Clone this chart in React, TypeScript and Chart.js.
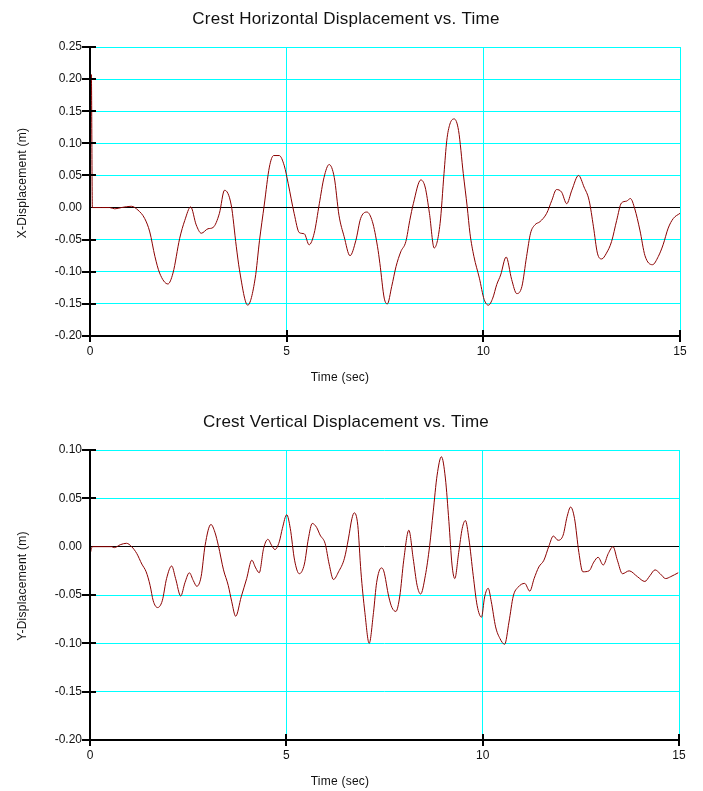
import React, { useEffect, useRef } from "react";
import { Chart, registerables } from "chart.js";

Chart.register(...registerables);

const FONT = '"Liberation Sans", Arial, Helvetica, sans-serif';
const INK = "#111111";
const GRID = "#00FFFF";
const TRACE = "#8B0000";

// Crest horizontal displacement record (sec, m)
const timeH = [
  0, 0.035, 0.06, 0.3, 0.5, 0.63, 0.8, 1.05, 1.22, 1.39, 1.52, 1.65, 1.77, 1.98,
  2.11, 2.28, 2.41, 2.56, 2.7, 2.83, 3.0, 3.13, 3.29, 3.42, 3.59, 3.72, 3.8,
  4.01, 4.2, 4.31, 4.43, 4.56, 4.67, 4.81, 4.94, 5.04, 5.19, 5.32, 5.45, 5.57,
  5.7, 5.83, 5.95, 6.08, 6.21, 6.33, 6.46, 6.61, 6.76, 6.88, 7.04, 7.18, 7.31,
  7.37, 7.48, 7.56, 7.67, 7.78, 7.9, 8.03, 8.13, 8.22, 8.41, 8.52, 8.63, 8.75,
  8.9, 9.0, 9.07, 9.15, 9.26, 9.37, 9.49, 9.59, 9.66, 9.76, 9.9, 10.02, 10.13,
  10.24, 10.34, 10.44, 10.58, 10.72, 10.85, 10.98, 11.1, 11.2, 11.31, 11.44,
  11.61, 11.74, 11.86, 11.99, 12.12, 12.25, 12.42, 12.56, 12.69, 12.8, 12.9,
  13.01, 13.13, 13.26, 13.39, 13.51, 13.64, 13.74, 13.85, 13.98, 14.11, 14.3,
  14.45, 14.57, 14.7, 14.83, 15.0,
];
const dispX = [
  0, 0.207, 0, 0, 0, -0.002, 0, 0.002, -0.004, -0.017, -0.038, -0.076, -0.102,
  -0.119, -0.102, -0.048, -0.02, 0.001, -0.027, -0.04, -0.033, -0.031, -0.009,
  0.027, 0.004, -0.061, -0.097, -0.152, -0.11, -0.051, 0.004, 0.063, 0.081,
  0.081, 0.065, 0.037, -0.009, -0.039, -0.041, -0.058, -0.04, 0.006, 0.047,
  0.067, 0.047, -0.012, -0.045, -0.075, -0.051, -0.017, -0.007, -0.022, -0.061,
  -0.087, -0.141, -0.15, -0.123, -0.092, -0.069, -0.053, -0.02, 0.006, 0.043,
  0.032, -0.009, -0.063, -0.025, 0.053, 0.104, 0.13, 0.138, 0.12, 0.053, 0.001,
  -0.04, -0.076, -0.11, -0.143, -0.152, -0.141, -0.12, -0.105, -0.077, -0.112,
  -0.134, -0.123, -0.076, -0.04, -0.027, -0.022, -0.009, 0.011, 0.028, 0.024,
  0.006, 0.027, 0.05, 0.032, 0.011, -0.03, -0.071, -0.08, -0.071, -0.053,
  -0.02, 0.007, 0.01, 0.014, -0.002, -0.035, -0.075, -0.089, -0.076, -0.058,
  -0.032, -0.017, -0.009,
];

// Crest vertical displacement record (sec, m)
const timeV = [
  0, 0.06, 0.55, 0.62, 0.77, 0.93, 1.06, 1.19, 1.32, 1.43, 1.53, 1.61, 1.72,
  1.84, 1.95, 2.08, 2.18, 2.31, 2.42, 2.53, 2.63, 2.72, 2.83, 2.93, 3.08, 3.18,
  3.27, 3.4, 3.52, 3.61, 3.71, 3.85, 3.99, 4.12, 4.22, 4.31, 4.42, 4.53, 4.63,
  4.71, 4.82, 4.9, 5.01, 5.1, 5.21, 5.33, 5.46, 5.56, 5.66, 5.77, 5.86, 5.99,
  6.09, 6.2, 6.33, 6.48, 6.58, 6.67, 6.73, 6.82, 6.9, 7.0, 7.11, 7.22, 7.3,
  7.42, 7.48, 7.61, 7.69, 7.79, 7.89, 7.99, 8.12, 8.23, 8.33, 8.42, 8.54, 8.65,
  8.74, 8.84, 8.95, 9.05, 9.14, 9.22, 9.29, 9.39, 9.48, 9.56, 9.65, 9.76, 9.86,
  9.97, 10.05, 10.14, 10.22, 10.33, 10.44, 10.56, 10.67, 10.78, 10.9, 11.07,
  11.2, 11.31, 11.43, 11.56, 11.69, 11.8, 11.92, 12.05, 12.15, 12.24, 12.34,
  12.45, 12.55, 12.71, 12.83, 12.94, 13.07, 13.2, 13.32, 13.43, 13.56, 13.73,
  13.94, 14.13, 14.26, 14.39, 14.52, 14.66, 14.79, 14.98,
];
const dispY = [
  -0.008, 0, 0, -0.001, 0.002, 0.0035, 0, -0.007, -0.018, -0.026, -0.04,
  -0.056, -0.063, -0.056, -0.033, -0.02, -0.033, -0.051, -0.037, -0.027,
  -0.035, -0.041, -0.031, 0.001, 0.023, 0.015, 0.001, -0.024, -0.04, -0.057,
  -0.072, -0.052, -0.033, -0.014, -0.022, -0.027, -0.002, 0.0076, 0.001,
  -0.003, 0.005, 0.019, 0.033, 0.019, -0.014, -0.028, -0.018, 0.008, 0.024,
  0.02, 0.012, 0.003, -0.018, -0.034, -0.026, -0.012, 0.008, 0.029, 0.035,
  0.022, -0.026, -0.068, -0.1, -0.068, -0.037, -0.022, -0.025, -0.052, -0.063,
  -0.067, -0.051, -0.014, 0.017, -0.012, -0.04, -0.049, -0.03, 0.001, 0.036,
  0.074, 0.093, 0.071, 0.026, -0.019, -0.033, -0.006, 0.019, 0.027, 0.008,
  -0.03, -0.061, -0.073, -0.052, -0.043, -0.057, -0.083, -0.095, -0.101,
  -0.078, -0.051, -0.042, -0.038, -0.046, -0.033, -0.021, -0.014, 0.001,
  0.011, 0.0066, 0.012, 0.031, 0.041, 0.029, -0.006, -0.026, -0.025, -0.016,
  -0.011, -0.019, -0.007, 0, -0.014, -0.028, -0.025, -0.031, -0.036, -0.03,
  -0.024, -0.028, -0.033, -0.031, -0.027,
];

const timeTicks = [0, 5, 10, 15];
const horizTicks = [-0.2, -0.15, -0.1, -0.05, 0, 0.05, 0.1, 0.15, 0.2, 0.25];
const vertTicks = [-0.2, -0.15, -0.1, -0.05, 0, 0.05, 0.1];

const titleH = "Crest Horizontal Displacement vs. Time";
const titleV = "Crest Vertical Displacement vs. Time";
const labelH = "X-Displacement (m)";
const labelV = "Y-Displacement (m)";
const labelTime = "Time (sec)";

const isZero = (v: number) => Math.abs(v) < 1e-9;
const fmtDisp = (v: number) => (isZero(v) ? 0 : v).toFixed(2);

// Draws the black axes with through-ticks, the title and the axis captions.
function framePlugin(title: string, yLabel: string) {
  return {
    id: "frame",
    afterDraw(chart: any) {
      const { ctx, chartArea: a } = chart;
      const xs = chart.scales.x;
      const ys = chart.scales.y;
      ctx.save();
      ctx.strokeStyle = "#000";
      ctx.lineWidth = 2;
      ctx.beginPath();
      ctx.moveTo(a.left, a.top - 1);
      ctx.lineTo(a.left, a.bottom);
      ctx.lineTo(a.right + 1, a.bottom);
      for (const t of ys.ticks) {
        if (isZero(t.value)) continue;
        const py = Math.round(ys.getPixelForValue(t.value));
        ctx.moveTo(a.left - 8, py);
        ctx.lineTo(a.left + 6, py);
      }
      for (const t of xs.ticks) {
        const px = Math.round(xs.getPixelForValue(t.value));
        ctx.moveTo(px, a.bottom - 6);
        ctx.lineTo(px, a.bottom + 6);
      }
      ctx.stroke();

      ctx.fillStyle = INK;
      ctx.textAlign = "center";
      ctx.textBaseline = "alphabetic";
      ctx.font = `17px ${FONT}`;
      ctx.letterSpacing = "0.25px";
      ctx.fillText(title, 346, a.top - 23);

      ctx.font = `12px ${FONT}`;
      ctx.fillText(labelTime, 340, a.bottom + 45);

      ctx.translate(26, a.top + 136);
      ctx.rotate(-Math.PI / 2);
      ctx.fillText(yLabel, 0, 0);
      ctx.restore();
    },
  };
}

type PanelProps = {
  title: string;
  yLabel: string;
  times: number[];
  values: number[];
  yTicks: number[];
  top: number;
  height: number;
  padTop: number;
  padRight: number;
  xAxisHeight: number;
};

function Panel(p: PanelProps) {
  const ref = useRef<HTMLCanvasElement>(null);

  useEffect(() => {
    const yMin = p.yTicks[0];
    const yMax = p.yTicks[p.yTicks.length - 1];
    const chart = new Chart(ref.current as HTMLCanvasElement, {
      type: "scatter",
      data: {
        datasets: [
          {
            data: p.times.map((t, i) => ({ x: t, y: p.values[i] })),
            showLine: true,
            borderColor: TRACE,
            borderWidth: 1,
            pointRadius: 0,
            pointHoverRadius: 0,
            cubicInterpolationMode: "monotone",
            fill: false,
          } as any,
        ],
      },
      options: {
        responsive: false,
        animation: false,
        devicePixelRatio: 1,
        events: [],
        layout: { padding: { top: p.padTop, right: p.padRight, left: 0, bottom: 0 } },
        plugins: {
          legend: { display: false },
          tooltip: { enabled: false },
          title: { display: false },
        },
        scales: {
          x: {
            type: "linear",
            min: 0,
            max: 15,
            afterBuildTicks: (s: any) => {
              s.ticks = timeTicks.map((v) => ({ value: v }));
            },
            afterFit: (s: any) => {
              s.height = p.xAxisHeight;
            },
            grid: { color: GRID, lineWidth: 1, drawTicks: false },
            border: { display: false },
            ticks: {
              padding: 8,
              color: INK,
              font: { family: FONT, size: 12 },
              maxRotation: 0,
              autoSkip: false,
              callback: (v: any) => String(v),
            },
          },
          y: {
            type: "linear",
            min: yMin,
            max: yMax,
            afterBuildTicks: (s: any) => {
              s.ticks = p.yTicks.map((v) => ({ value: v }));
            },
            afterFit: (s: any) => {
              s.width = 90;
            },
            grid: {
              color: (c: any) => (c.tick && isZero(c.tick.value) ? "#000000" : GRID),
              lineWidth: 1,
              drawTicks: false,
            },
            border: { display: false },
            ticks: {
              padding: 8,
              color: INK,
              font: { family: FONT, size: 12 },
              autoSkip: false,
              callback: (v: any) => fmtDisp(Number(v)),
            },
          },
        },
      } as any,
      plugins: [framePlugin(p.title, p.yLabel)],
    });
    return () => chart.destroy();
  }, []);

  return (
    <canvas
      ref={ref}
      width={703}
      height={p.height}
      style={{ position: "absolute", left: 0, top: p.top, display: "block" }}
    />
  );
}

export default function App() {
  useEffect(() => {
    document.body.style.margin = "0";
  }, []);

  return (
    <div style={{ position: "relative", width: 703, height: 791, background: "#ffffff" }}>
      <Panel
        title={titleH}
        yLabel={labelH}
        times={timeH}
        values={dispX}
        yTicks={horizTicks}
        top={0}
        height={395}
        padTop={47}
        padRight={23}
        xAxisHeight={59}
      />
      <Panel
        title={titleV}
        yLabel={labelV}
        times={timeV}
        values={dispY}
        yTicks={vertTicks}
        top={395}
        height={396}
        padTop={55}
        padRight={24}
        xAxisHeight={51}
      />
    </div>
  );
}
